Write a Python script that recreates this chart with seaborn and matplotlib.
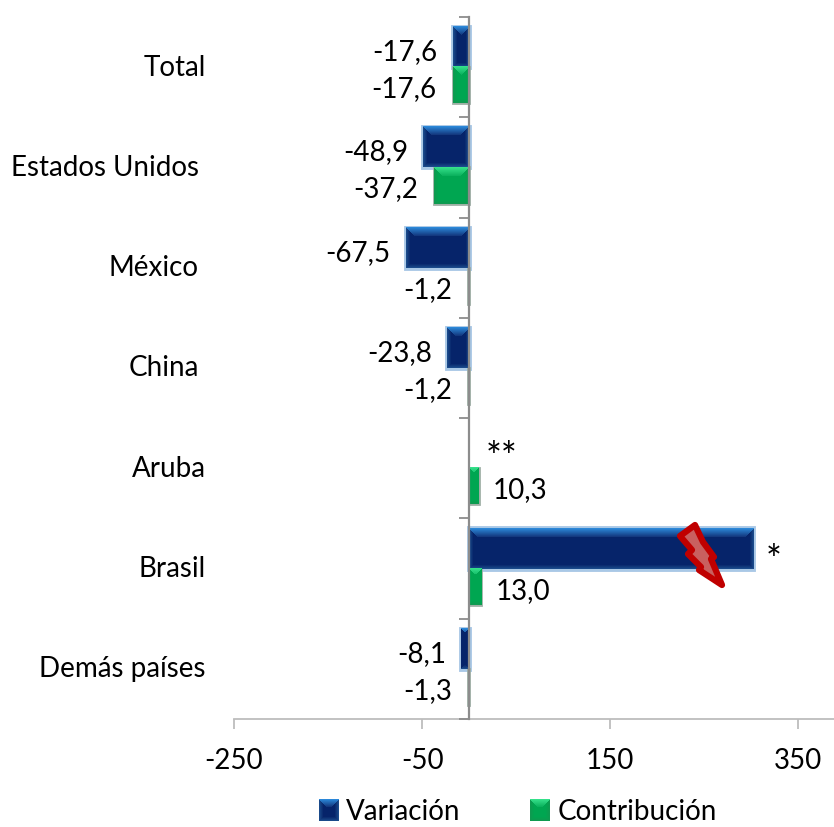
import numpy as np
import pandas as pd
import seaborn as sns
import matplotlib.pyplot as plt
from matplotlib.colors import to_rgb
from matplotlib.patches import Patch, Polygon
from matplotlib.transforms import ScaledTranslation

paises = ["Total", "Estados Unidos", "México", "China", "Aruba", "Brasil", "Demás países"]
variacion = [-17.6, -48.9, -67.5, -23.8, np.nan, 302, -8.1]
contribucion = [-17.6, -37.2, -1.2, -1.2, 10.3, 13.0, -1.3]
etiquetas_var = ["-17,6", "-48,9", "-67,5", "-23,8", "**", "*", "-8,1"]
etiquetas_con = ["-17,6", "-37,2", "-1,2", "-1,2", "10,3", "13,0", "-1,3"]
ticks_x = [-250, -50, 150, 350]

sns.set_theme(style="white")
plt.rcParams["font.family"] = ["Lato", "DejaVu Sans"]
DPI = 100
W, H = 834, 828
FS = 20

df = pd.DataFrame({"pais": paises, "Variación": variacion, "Contribución": contribucion})
df = df.melt(id_vars="pais", var_name="serie", value_name="valor")

fig = plt.figure(figsize=(W / DPI, H / DPI), dpi=DPI)
ax = fig.add_axes([234 / W, 1 - 720 / H, 600 / W, 702 / H])
sns.barplot(data=df, x="valor", y="pais", hue="serie", order=paises,
            hue_order=["Variación", "Contribución"],
            palette=["#06246a", "#00a651"], width=0.8, legend=False, ax=ax)


# imagen con efecto bisel para las barras y la leyenda
def bisel(w, h, arriba, lado, centro, abajo, banda=9):
    w = max(int(round(w)), 1)
    h = max(int(round(h)), 1)
    img = np.zeros((h, w, 3))
    img[:] = to_rgb(centro)
    b = min(banda, h // 2)
    for fila in range(h):
        for col in range(w):
            d = min(col, w - 1 - col)
            if fila < b and fila <= d:
                t = fila / max(b - 1, 1)
                img[fila, col] = (1 - t) * np.array(to_rgb(arriba)) + t * np.array(to_rgb(lado))
            elif h - 1 - fila < 5 and h - 1 - fila <= d:
                t = (h - 1 - fila) / 4
                img[fila, col] = (1 - t) * np.array(to_rgb(abajo)) + t * np.array(to_rgb(centro))
            elif d < 5 and w > 12:
                t = d / 4
                img[fila, col] = (1 - t) * np.array(to_rgb(abajo)) + t * np.array(to_rgb(centro))
    return img


colores = [("#2b87d8", "#14397f", "#06246a", "#1a4a8a"),
           ("#35e08a", "#0cb25e", "#00a651", "#0f9a50")]
halo = ["#a9c8e6", "#9fb0a6"]
ancho_halo = [3.5, 2.0]

ax.set_xlim(-250, 388)
ax.set_ylim(6.5, -0.5)
px = 600 / (388 + 250)

for j, cont in enumerate(ax.containers):
    for bar in cont:
        x0, x1 = sorted([bar.get_x(), bar.get_x() + bar.get_width()])
        y0 = bar.get_y()
        y1 = y0 + bar.get_height()
        if j == 1:
            y1 = y0 + 0.36
            bar.set_height(0.36)
        bar.set_edgecolor(halo[j])
        bar.set_linewidth(ancho_halo[j])
        img = bisel((x1 - x0) * px, (y1 - y0) * 100.3, *colores[j])
        ax.imshow(img, extent=(x0, x1, y1, y0), origin="upper", aspect="auto",
                  zorder=bar.get_zorder() + 0.5, interpolation="nearest")

# etiquetas de datos
for i in range(len(paises)):
    v = variacion[i]
    if np.isnan(v):
        ax.annotate(etiquetas_var[i], (0, i - 0.2), xytext=(17, -10), textcoords="offset pixels",
                    ha="left", va="center", fontsize=27, color="black")
    elif v > 0:
        ax.annotate(etiquetas_var[i], (v, i - 0.2), xytext=(13, -12), textcoords="offset pixels",
                    ha="left", va="center", fontsize=27, color="black")
    else:
        ax.annotate(etiquetas_var[i], (v, i - 0.2), xytext=(-15, -4), textcoords="offset pixels",
                    ha="right", va="center", fontsize=FS, color="black")
    c = contribucion[i]
    if c > 0:
        ax.annotate(etiquetas_con[i], (c, i + 0.2), xytext=(14, -1), textcoords="offset pixels",
                    ha="left", va="center", fontsize=FS, color="black")
    else:
        ax.annotate(etiquetas_con[i], (c, i + 0.2), xytext=(-16, -1), textcoords="offset pixels",
                    ha="right", va="center", fontsize=FS, color="black")

ax.set_xlim(-250, 388)
ax.set_ylim(6.5, -0.5)
ax.set_xlabel("")
ax.set_ylabel("")
ax.set_xticks(ticks_x)
ax.set_xticklabels([str(t) for t in ticks_x], fontsize=FS, color="black")
ax.tick_params(axis="x", bottom=True, direction="out", length=7, width=1.3, color="#bdbdbd", pad=13)
ax.tick_params(axis="y", left=False, pad=14.5, labelsize=FS, labelcolor="black")
for lab, dx in zip(ax.get_yticklabels(), [0, 7, 7, 7, 0, 0, 0]):
    lab.set_transform(lab.get_transform() + ScaledTranslation(-dx / DPI, 3 / DPI, fig.dpi_scale_trans))

for s in ["top", "right", "left"]:
    ax.spines[s].set_visible(False)
ax.spines["bottom"].set_color("#bdbdbd")
ax.spines["bottom"].set_linewidth(1.3)

# eje vertical en cero, con las etiquetas a la izquierda del area
eje = ax.secondary_yaxis((0 + 250) / (388 + 250))
eje.set_yticks(np.arange(-0.5, 7, 1))
eje.set_yticklabels([])
eje.tick_params(axis="y", left=True, direction="out", length=7.5, width=1.3, color="#8c8c8c")
eje.spines["left"].set_color("#8c8c8c")
eje.spines["left"].set_linewidth(1.6)
eje.set_zorder(5)

# rayo rojo sobre la barra de Brasil (dibujado a mano en el original)
rayo = np.array([(695, 526), (680, 537), (692, 551), (688, 555), (701, 568), (699, 571), (722, 586),
                 (711, 560), (714, 558), (703, 543)], dtype=float)
rayo[:, 1] = H - rayo[:, 1]
fig.add_artist(Polygon(rayo, closed=True, transform=None, facecolor="#c9605f", edgecolor="#c00000",
                       linewidth=4.5, joinstyle="round", zorder=10))

# leyenda
handles = [Patch(facecolor="none", edgecolor="none", label="Variación"),
           Patch(facecolor="none", edgecolor="none", label="Contribución")]
leg = fig.legend(handles=handles, loc="center", bbox_to_anchor=(518 / W, 1 - 812 / H), ncol=2, frameon=False,
                 fontsize=FS, handlelength=0.72, handleheight=1.0, handletextpad=0.25, columnspacing=2.5,
                 labelcolor="black")
fig.canvas.draw()
for h, cols in zip(leg.legend_handles, colores):
    bb = h.get_window_extent()
    img = bisel(20, 22, *cols, banda=8)
    fig.figimage(img, xo=int(bb.x0), yo=int(bb.y0 + bb.height / 2 - 11), zorder=6)

fig.savefig("out.png", dpi=DPI)
